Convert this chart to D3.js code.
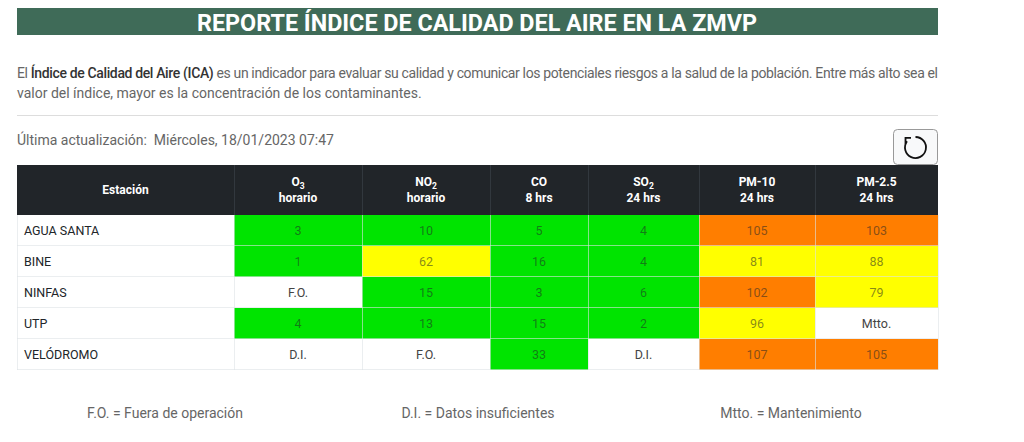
<!DOCTYPE html>
<html>
<head>
<meta charset="utf-8">
<script src="https://cdn.jsdelivr.net/npm/d3@7"></script>
<style>
  body { margin: 0; background: #fff; }
  svg { display: block; }
</style>
</head>
<body>
<div id="chart"></div>
<script>
// data
var stations = ["AGUA SANTA", "BINE", "NINFAS", "UTP", "VELÓDROMO"];
var pollutants = ["O3", "NO2", "CO", "SO2", "PM-10", "PM-2.5"];
var periods = ["horario", "horario", "8 hrs", "24 hrs", "24 hrs", "24 hrs"];
var o3   = [3, 1, "F.O.", 4, "D.I."];
var no2  = [10, 62, 15, 13, "F.O."];
var co   = [5, 16, 3, 15, 33];
var so2  = [4, 4, 6, 2, "D.I."];
var pm10 = [105, 81, 102, 96, 107];
var pm25 = [103, 88, 79, "Mtto.", 105];
var notes = ["F.O. = Fuera de operación", "D.I. = Datos insuficientes", "Mtto. = Mantenimiento"];

var series = [o3, no2, co, so2, pm10, pm25];

var svgWidth = 1024;
var svgHeight = 442;

var svg = d3.select("#chart")
    .append("svg")
    .attr("width", svgWidth)
    .attr("height", svgHeight);

var left = 17, right = 938;
var textFont = "Roboto";

// title banner
svg.append("rect")
    .attr("x", left).attr("y", 8)
    .attr("width", right - left).attr("height", 27)
    .attr("fill", "#3f6b58");
svg.append("text")
    .attr("x", 197).attr("y", 31)
    .attr("textLength", 560)
    .attr("lengthAdjust", "spacingAndGlyphs")
    .attr("font-family", "Roboto")
    .attr("font-weight", "bold")
    .attr("font-size", 24.5)
    .attr("fill", "#fff")
    .text("REPORTE ÍNDICE DE CALIDAD DEL AIRE EN LA ZMVP");

// intro paragraph
var para = svg.append("g")
    .attr("font-family", textFont)
    .attr("font-size", 14)
    .attr("fill", "#666");
var l1 = para.append("text").attr("x", left).attr("y", 78)
    .attr("textLength", right - left)
    .attr("lengthAdjust", "spacing");
l1.append("tspan").text("El ");
l1.append("tspan").attr("fill", "#333").attr("font-weight", 500).text("Índice de Calidad del Aire (ICA)");
l1.append("tspan").text(" es un indicador para evaluar su calidad y comunicar los potenciales riesgos a la salud de la población. Entre más alto sea el");
para.append("text").attr("x", left).attr("y", 98)
    .text("valor del índice, mayor es la concentración de los contaminantes.");

svg.append("line")
    .attr("x1", left).attr("x2", right)
    .attr("y1", 115.5).attr("y2", 115.5)
    .attr("stroke", "#ddd");

svg.append("text")
    .attr("x", left).attr("y", 145)
    .attr("font-family", textFont)
    .attr("font-size", 14)
    .attr("fill", "#666")
    .attr("xml:space", "preserve")
    .text("Última actualización:  Miércoles, 18/01/2023 07:47");

// refresh button
var btn = svg.append("g");
btn.append("rect")
    .attr("x", 893.5).attr("y", 129.5)
    .attr("width", 44).attr("height", 35)
    .attr("rx", 4)
    .attr("fill", "#f8f9fa")
    .attr("stroke", "#999");
var cx = 915.5, cy = 147.5, r = 10.5;
var endA = Math.PI * 1.7;
btn.append("path")
    .attr("d", d3.arc()({innerRadius: r, outerRadius: r, startAngle: 0, endAngle: endA}))
    .attr("transform", "translate(" + cx + "," + cy + ")")
    .attr("fill", "none")
    .attr("stroke", "#111")
    .attr("stroke-width", 1.8);
// arrow head at the top-left end of the arc
var ax = cx + r * Math.sin(endA), ay = cy - r * Math.cos(endA);
btn.append("path")
    .attr("d", "M" + (ax + 4) + "," + (ay - 3.5) + " L" + (ax - 1.5) + "," + (ay - 3.5) + " L" + (ax - 1.5) + "," + (ay + 2.5))
    .attr("fill", "none")
    .attr("stroke", "#111")
    .attr("stroke-width", 1.8);

// table layout
var colEdges = [17, 234, 362, 490, 588, 699, 815, 938];
var columns = ["Estación"].concat(pollutants);
var xStart = d3.scaleOrdinal().domain(columns).range(colEdges.slice(0, -1));
var xEnd = d3.scaleOrdinal().domain(columns).range(colEdges.slice(1));

var headerTop = 165, headerBottom = 215;
var y = d3.scaleBand()
    .domain(stations)
    .range([headerBottom, 370]);

var color = d3.scaleThreshold()
    .domain([51, 101, 151])
    .range(["#00e400", "#ffff00", "#ff7e00", "#ff0000"]);

// header
var head = svg.append("g")
    .attr("font-family", "Roboto")
    .attr("font-weight", "bold")
    .attr("font-size", 12)
    .attr("fill", "#fff")
    .attr("text-anchor", "middle");
head.append("rect")
    .attr("x", left).attr("y", headerTop)
    .attr("width", right - left).attr("height", headerBottom - headerTop)
    .attr("fill", "#212529");
head.selectAll("line.sep")
    .data(columns.slice(1))
    .enter().append("line")
    .attr("x1", d => xStart(d) + 0.5).attr("x2", d => xStart(d) + 0.5)
    .attr("y1", headerTop).attr("y2", headerBottom)
    .attr("stroke", "#32383e");
head.append("text")
    .attr("x", (xStart("Estación") + xEnd("Estación")) / 2)
    .attr("y", 194)
    .text("Estación");

var subs = {"O3": ["O", "3"], "NO2": ["NO", "2"], "SO2": ["SO", "2"]};
pollutants.forEach(function (p, i) {
    var mid = (xStart(p) + xEnd(p)) / 2;
    var t = head.append("text").attr("x", mid).attr("y", 186);
    if (subs[p]) {
        t.append("tspan").text(subs[p][0]);
        t.append("tspan").attr("font-size", 8.5).attr("dy", 3).text(subs[p][1]);
    } else {
        t.text(p);
    }
    head.append("text").attr("x", mid).attr("y", 202).text(periods[i]);
});

// body cells
var cells = [];
stations.forEach(function (s, r) {
    pollutants.forEach(function (p, c) {
        cells.push({station: s, pollutant: p, value: series[c][r]});
    });
});

var body = svg.append("g")
    .attr("font-family", "Roboto")
    .attr("font-size", 12.5);

body.selectAll("rect.row")
    .data(stations)
    .enter().append("rect")
    .attr("x", left).attr("y", d => y(d))
    .attr("width", right - left).attr("height", y.bandwidth())
    .attr("fill", "#fff");

body.selectAll("rect.cell")
    .data(cells)
    .enter().append("rect")
    .attr("x", d => xStart(d.pollutant))
    .attr("y", d => y(d.station))
    .attr("width", d => xEnd(d.pollutant) - xStart(d.pollutant))
    .attr("height", y.bandwidth())
    .attr("fill", d => typeof d.value === "number" ? color(d.value) : "#fff");

// grid lines
body.selectAll("line.h")
    .data(stations)
    .enter().append("line")
    .attr("x1", left).attr("x2", right)
    .attr("y1", d => y(d) + y.bandwidth() - 0.5).attr("y2", d => y(d) + y.bandwidth() - 0.5)
    .attr("stroke", "rgba(222,226,230,0.6)");
body.selectAll("line.v")
    .data(colEdges)
    .enter().append("line")
    .attr("x1", d => d + 0.5).attr("x2", d => d + 0.5)
    .attr("y1", headerBottom).attr("y2", 370)
    .attr("stroke", "rgba(222,226,230,0.6)");

body.selectAll("text.station")
    .data(stations)
    .enter().append("text")
    .attr("x", 24)
    .attr("y", d => y(d) + y.bandwidth() / 2 + 4.5)
    .attr("fill", "#212529")
    .text(d => d);

body.selectAll("text.val")
    .data(cells)
    .enter().append("text")
    .attr("x", d => (xStart(d.pollutant) + xEnd(d.pollutant)) / 2)
    .attr("y", d => y(d.station) + y.bandwidth() / 2 + 4.5)
    .attr("text-anchor", "middle")
    .attr("fill", d => typeof d.value === "number" ? "rgba(33,37,41,0.55)" : "#444")
    .text(d => d.value);

// footer notes
var noteX = d3.scalePoint().domain(notes).range([165, 791]);
svg.append("g")
    .attr("font-family", textFont)
    .attr("font-size", 14)
    .attr("fill", "#666")
    .attr("text-anchor", "middle")
    .selectAll("text")
    .data(notes)
    .enter().append("text")
    .attr("x", d => noteX(d))
    .attr("y", 418)
    .text(d => d);
</script>
</body>
</html>
